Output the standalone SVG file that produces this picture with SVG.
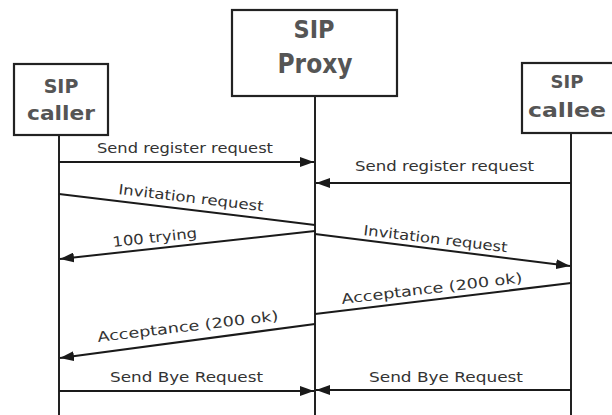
<svg xmlns="http://www.w3.org/2000/svg" width="612" height="415" viewBox="0 0 612 415">
<style>
.box{fill:#fff;stroke:#222;stroke-width:2.2}
.life{stroke:#222;stroke-width:2;fill:none}
.msg{stroke:#1a1a1a;stroke-width:2;fill:none}
.arr{marker-end:url(#ah)}
.lbl{font-family:"DejaVu Sans",sans-serif;font-size:14px;fill:#333}
.ttl{font-family:"DejaVu Sans",sans-serif;font-weight:bold;fill:#555;text-anchor:middle}
</style>
<defs>
<marker id="ah" viewBox="0 0 14 10" refX="14" refY="5" markerWidth="14" markerHeight="10" markerUnits="userSpaceOnUse" orient="auto">
<path d="M0,0 L14,5 L0,10 Z" fill="#1a1a1a"/>
</marker>
</defs>
<rect width="612" height="415" fill="#fff"/>
<g id="caller">
<rect class="box" x="14" y="64" width="94" height="71"/>
<text class="ttl" x="61" y="93" font-size="19">SIP</text>
<text class="ttl" x="61" y="120" font-size="19" textLength="68" lengthAdjust="spacingAndGlyphs">caller</text>
</g>
<g id="proxy">
<rect class="box" x="232" y="10" width="165" height="86"/>
<text class="ttl" x="314" y="38" font-size="25" textLength="41" lengthAdjust="spacingAndGlyphs">SIP</text>
<text class="ttl" x="315" y="73" font-size="27" textLength="75" lengthAdjust="spacingAndGlyphs">Proxy</text>
</g>
<g id="callee">
<rect class="box" x="522" y="63" width="100" height="70"/>
<text class="ttl" x="567" y="88" font-size="18">SIP</text>
<text class="ttl" x="567" y="117" font-size="19" textLength="78" lengthAdjust="spacingAndGlyphs">callee</text>
</g>
<g id="lifelines">
<line class="life" x1="59" y1="135" x2="59" y2="415"/>
<line class="life" x1="315" y1="96" x2="315" y2="415"/>
<line class="life" x1="571" y1="133" x2="571" y2="415"/>
</g>
<g id="connectors">
<line class="msg arr" x1="59" y1="162" x2="314" y2="162"/>
<line class="msg arr" x1="571" y1="183" x2="316" y2="183"/>
<line class="msg" x1="59" y1="194" x2="315" y2="225"/>
<line class="msg arr" x1="315" y1="231" x2="60" y2="259"/>
<line class="msg arr" x1="315" y1="234" x2="570" y2="266"/>
<line class="msg" x1="571" y1="283" x2="315" y2="314"/>
<line class="msg arr" x1="315" y1="324" x2="60" y2="358"/>
<line class="msg arr" x1="59" y1="391" x2="314" y2="391"/>
<line class="msg arr" x1="571" y1="390" x2="316" y2="390"/>
</g>
<g id="labels">
<text class="lbl" x="97" y="153" textLength="176" lengthAdjust="spacingAndGlyphs">Send register request</text>
<text class="lbl" x="355" y="171" textLength="179" lengthAdjust="spacingAndGlyphs">Send register request</text>
<text class="lbl" transform="translate(118,194) rotate(6.8)" textLength="146" lengthAdjust="spacingAndGlyphs">Invitation request</text>
<text class="lbl" transform="translate(113,247) rotate(-6.3)" textLength="85" lengthAdjust="spacingAndGlyphs">100 trying</text>
<text class="lbl" transform="translate(363,235) rotate(6.8)" textLength="145" lengthAdjust="spacingAndGlyphs">Invitation request</text>
<text class="lbl" transform="translate(342,304) rotate(-6.8)" textLength="182" lengthAdjust="spacingAndGlyphs">Acceptance (200 ok)</text>
<text class="lbl" transform="translate(98,342) rotate(-6.8)" textLength="182" lengthAdjust="spacingAndGlyphs">Acceptance (200 ok)</text>
<text class="lbl" x="110" y="382" textLength="153" lengthAdjust="spacingAndGlyphs">Send Bye Request</text>
<text class="lbl" x="369" y="382" textLength="154" lengthAdjust="spacingAndGlyphs">Send Bye Request</text>
</g>
</svg>
